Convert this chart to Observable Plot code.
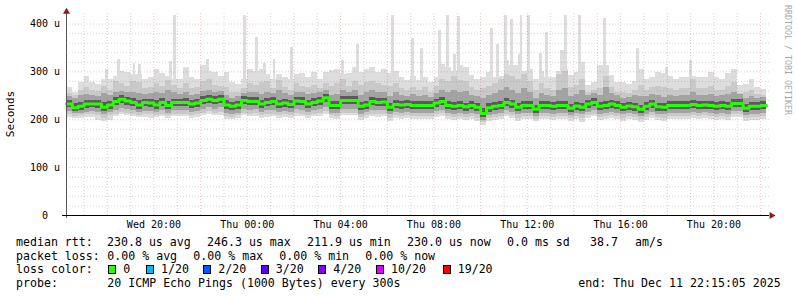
<!DOCTYPE html>
<html><head><meta charset="utf-8">
<script src="https://cdn.jsdelivr.net/npm/d3@7"></script>
<script src="https://cdn.jsdelivr.net/npm/@observablehq/plot@0.6"></script>
<style>
html,body{margin:0;padding:0;background:#fff;}
#wrap{position:relative;width:797px;height:297px;overflow:hidden;background:#fff;}
#chart{position:absolute;left:0;top:0;}
.lg{position:absolute;font-family:"DejaVu Sans Mono",monospace;font-size:11.6px;line-height:14px;white-space:pre;color:#000;}
.sw{position:absolute;width:8px;height:9px;box-sizing:border-box;border:1px solid #000;}
.rot{position:absolute;font-family:"DejaVu Sans Mono",monospace;text-align:center;white-space:pre;}
</style></head><body><div id="wrap"><div id="chart"></div></div>
<script>
// ---------- data (values in microseconds, "u") ----------
const startTime = "2025-12-10T16:15:05Z";
const endTime = "2025-12-11T22:15:05Z";
const stepMinutes = 15;

const medianRtt = [
233,225,228,233,233,233,226,231,238,243,239,236,231,236,235,231,236,230,236,236,
236,233,235,240,243,240,243,231,228,231,240,238,238,233,236,238,233,235,232,239,238,
233,236,239,246,230,230,240,240,240,228,231,238,236,237,226,232,231,232,230,230,
230,230,235,238,230,228,230,227,230,226,213,225,228,230,236,233,226,230,230,222,
230,230,228,230,230,224,229,226,233,236,228,230,233,230,226,229,227,222,228,233,
227,226,230,230,230,230,232,230,231,230,228,230,228,234,234,224,228,228,230];

const pingMax = [
268,258,278,291,278,274,285,285,290,300,299,295,295,285,289,304,296,290,285,285,
310,289,285,313,300,299,290,299,278,274,285,306,300,306,295,285,295,289,285,295,296,
289,299,285,299,303,306,295,296,310,299,306,310,299,306,296,300,289,281,290,283,
289,278,289,315,310,300,313,310,292,285,289,299,289,290,324,313,313,300,306,285,
300,289,289,300,305,292,299,320,271,278,313,313,292,278,278,274,280,306,285,289,
299,296,290,285,289,289,290,289,289,299,289,285,296,306,271,274,285,268,264];

const ping90 = [
255,250,262,268,262,260,270,262,280,275,270,280,278,265,268,275,270,282,272,265,
275,265,268,280,285,272,270,268,258,258,265,275,272,278,280,265,282,268,262,275,270,
268,272,265,275,270,275,285,270,280,272,278,280,275,272,270,275,265,262,268,262,
268,258,270,285,280,290,282,280,268,262,265,270,275,285,295,290,285,295,280,262,
275,265,262,295,300,268,272,285,258,262,265,290,268,258,258,255,262,272,262,268,
270,268,265,262,265,265,285,265,265,270,262,262,270,278,255,258,262,252,250];

const ping75 = [
248,245,250,252,250,248,255,250,258,260,256,258,255,252,254,256,255,262,256,252,
258,250,252,260,262,258,260,250,245,248,255,258,256,252,258,254,262,255,250,258,256,
252,255,256,262,250,252,262,258,262,250,256,262,258,256,248,258,250,248,252,248,
250,246,255,262,258,262,258,260,250,248,245,250,255,262,268,262,255,265,258,245,
255,250,248,262,265,248,252,262,250,254,250,268,255,250,245,246,250,248,248,252,
250,246,250,248,250,250,258,250,250,252,248,250,252,258,252,245,248,245,246];

const ping60 = [
240,234,236,240,241,240,236,239,246,250,247,244,240,243,242,240,244,239,243,243,
244,241,243,248,251,248,250,240,237,239,248,246,246,241,244,246,241,243,240,247,246,
241,244,247,253,238,238,248,248,248,237,239,246,244,245,235,240,239,240,238,238,
238,238,243,246,238,236,238,235,238,234,224,233,236,238,244,241,234,238,238,230,
238,238,236,238,238,232,237,234,241,244,236,238,241,238,234,237,235,230,236,241,
235,234,238,238,238,238,240,238,239,238,236,238,236,242,242,232,236,236,238];

const ping40 = [
225,218,220,224,225,224,217,222,229,234,230,227,222,227,226,222,227,221,227,227,
227,224,226,231,234,231,234,222,219,222,231,229,229,224,227,229,224,226,223,230,229,
224,227,230,236,221,221,231,231,231,219,222,229,227,228,217,223,222,223,221,221,
221,221,226,229,221,219,221,218,221,217,205,216,219,221,227,224,217,221,221,213,
221,221,219,221,221,215,220,217,224,227,219,221,224,221,217,220,218,213,219,224,
218,217,221,221,221,221,223,221,222,221,219,221,219,225,225,215,219,219,221];

const ping25 = [
217,213,214,216,218,216,210,215,220,224,222,219,215,218,218,215,219,214,219,219,
219,216,218,222,225,222,225,214,212,214,222,220,221,216,219,220,216,218,215,221,220,
216,219,221,226,214,214,222,222,222,212,215,220,219,220,210,215,214,215,214,214,
214,214,218,220,214,212,214,211,214,210,199,209,212,214,219,216,210,214,214,207,
214,214,212,214,214,209,213,210,216,219,212,214,216,214,210,213,211,207,212,216,
211,210,214,214,214,214,216,214,215,214,212,214,212,217,217,209,212,212,214];

const ping10 = [
210,207,208,210,211,208,203,208,212,216,214,212,209,210,211,209,212,208,212,212,
212,209,210,214,217,214,216,207,205,208,214,212,213,209,211,212,209,211,208,213,212,
209,212,213,218,208,207,214,214,214,205,208,212,211,212,203,208,207,208,207,207,
207,207,211,213,207,205,207,204,207,203,194,202,205,207,212,209,203,207,207,201,
207,207,205,207,207,202,206,203,209,212,205,207,209,207,203,206,204,200,205,209,
204,203,207,207,207,207,209,207,208,207,205,207,205,210,210,202,205,205,207];

const pingMin = [
205,203,203,205,205,199,197,199,206,210,208,206,204,204,203,204,206,203,206,206,
206,203,204,208,211,208,209,201,200,203,208,206,207,203,205,206,203,205,202,207,206,
203,206,207,212,202,201,208,208,208,199,202,206,205,206,197,202,201,202,201,201,
201,201,205,207,201,199,201,198,201,197,189,196,199,201,206,203,197,201,201,196,
201,201,199,201,201,196,200,194,203,206,199,201,203,201,197,200,198,195,199,203,
198,197,201,201,201,201,203,201,202,201,199,201,199,204,204,196,199,199,201];

// single-ping outliers (time, value)
const spikeTimes = [
"2025-12-10T18:00","2025-12-10T18:30","2025-12-10T19:10","2025-12-10T19:25","2025-12-10T20:43",
"2025-12-10T20:55","2025-12-10T22:20","2025-12-10T23:55","2025-12-11T00:25","2025-12-11T00:45",
"2025-12-11T01:10","2025-12-11T01:55","2025-12-11T04:05","2025-12-11T04:45","2025-12-11T06:15",
"2025-12-11T07:05","2025-12-11T07:30","2025-12-11T08:15","2025-12-11T08:35","2025-12-11T08:55",
"2025-12-11T09:05","2025-12-11T10:30","2025-12-11T10:45","2025-12-11T11:05","2025-12-11T11:20",
"2025-12-11T11:40","2025-12-11T11:45","2025-12-11T12:05","2025-12-11T12:35","2025-12-11T12:50",
"2025-12-11T13:30","2025-12-11T13:35","2025-12-11T13:40","2025-12-11T14:15","2025-12-11T15:20",
"2025-12-11T16:45","2025-12-11T18:00","2025-12-11T19:00"];
const spikeValues = [
305,325,317,315,322,
418,326,418,371,317,
326,350,324,358,418,
369,348,386,418,337,
415,390,358,418,410,
337,418,418,338,382,
345,345,418,418,411,
349,310,324];

const xTickTimes = ["2025-12-10T20:00","2025-12-11T00:00","2025-12-11T04:00","2025-12-11T08:00","2025-12-11T12:00","2025-12-11T16:00","2025-12-11T20:00"];
const xTickLabels = ["Wed 20:00","Thu 00:00","Thu 04:00","Thu 08:00","Thu 12:00","Thu 16:00","Thu 20:00"];
const yTicks = [0, 100, 200, 300, 400];
const yTickLabels = ["0\u00a0\u00a0", "100 u", "200 u", "300 u", "400 u"];
const yMax = 422;

const lossLabels = ["0","1/20","2/20","3/20","4/20","10/20","19/20"];
const lossColors = ["#26ff00","#00b8ff","#0059ff","#5e00ff","#7e00ff","#dd00ff","#ff0000"];

const medianLegend = ["median rtt:","230.8 us avg","246.3 us max","211.9 us min","230.0 us now","0.0 ms sd","38.7","am/s"];
const lossLegend = ["packet loss:","0.00 % avg","0.00 % max","0.00 % min","0.00 % now"];
const probeLegend = ["probe:","20 ICMP Echo Pings (1000 Bytes) every 300s","end: Thu Dec 11 22:15:05 2025"];
const yTitle = "Seconds";
const watermark = "RRDTOOL / TOBI OETIKER";

// ---------- build ----------
const MIN = 60000;
const parseT = d3.utcParse("%Y-%m-%dT%H:%M");
const start = new Date(startTime), end = new Date(endTime);
const bins = medianRtt.map((m, i) => ({
  t0: new Date(+start + i * stepMinutes * MIN),
  t1: new Date(+start + (i + 1) * stepMinutes * MIN),
  med: m, hi: pingMax[i], p90: ping90[i], p75: ping75[i], p60: ping60[i],
  p40: ping40[i], p25: ping25[i], p10: ping10[i], lo: pingMin[i]
}));
const medLine = bins.map(b => ({t: b.t0, v: b.med})).concat([{t: end, v: medianRtt[medianRtt.length - 1]}]);
const spikes = spikeTimes.map((s, i) => ({t: parseT(s), v: spikeValues[i]}));
const xTicks = xTickTimes.map(parseT);

const hours = d3.utcHour.range(d3.utcHour.ceil(start), end);
const majorX = hours.filter(h => h.getUTCHours() % 2 === 0);
const minorX = hours.filter(h => h.getUTCHours() % 2 === 1);
const majorY = [100, 200, 300, 400];
const minorY = d3.range(20, 420, 20).filter(v => v % 100 !== 0);
const gridEnd = new Date(+end + 10 * MIN);

const band = (y1, y2, fill) => Plot.rect(bins, {x1: "t0", x2: "t1", y1, y2, fill, shapeRendering: "crispEdges"});
const gridGray = "rgba(150,150,150,0.4)";
const gridRed = "rgba(210,60,60,0.3)";

const chart = Plot.plot({
  width: 797, height: 230,
  marginLeft: 66, marginRight: 31, marginTop: 13, marginBottom: 15,
  x: {type: "utc", domain: [start, end], axis: null},
  y: {domain: [0, yMax], axis: null},
  style: {background: "white", fontFamily: "DejaVu Sans Mono, monospace", overflow: "visible"},
  marks: [
    Plot.rect(spikes, {x1: d => new Date(+d.t - 3.75 * MIN), x2: d => new Date(+d.t + 3.75 * MIN), y1: () => 225, y2: "v", fill: "#dddddd", shapeRendering: "crispEdges"}),
    band("lo", "hi", "#dddddd"),
    band("p10", "p90", "#c9c9c9"),
    band("p25", "p75", "#a3a3a3"),
    band("p40", "p60", "#5a5a5a"),
    Plot.ruleX(minorX, {y1: 0, y2: yMax, stroke: gridGray, strokeDasharray: "1,2"}),
    Plot.ruleX(majorX, {y1: 0, y2: yMax, stroke: gridRed, strokeDasharray: "1,2"}),
    Plot.ruleY(minorY, {x1: () => start, x2: () => gridEnd, stroke: gridGray, strokeDasharray: "1,2"}),
    Plot.ruleY(majorY, {x1: () => start, x2: () => gridEnd, stroke: gridRed, strokeDasharray: "1,2"}),
    Plot.line(medLine, {x: "t", y: "v", curve: "step-after", stroke: "#26ff00", strokeWidth: 3}),
    Plot.ruleX([start], {y1: -6, y2: 428, stroke: "#555"}),
    Plot.ruleY([0], {x1: () => new Date(+start - 10 * MIN), x2: () => new Date(+end + 8 * MIN), stroke: "#000"}),
    Plot.dot([0], {x: () => start, y: () => 425.5, symbol: "triangle", r: 2.6, fill: "#8b1a1a", stroke: "none"}),
    Plot.dot([0], {x: () => new Date(+end + 13 * MIN), y: () => 0, symbol: "triangle", rotate: 90, r: 2.6, fill: "#8b1a1a", stroke: "none"}),
    Plot.text(yTicks, {y: d => d, text: (d, i) => yTickLabels[i], frameAnchor: "left", textAnchor: "end", dx: -6.5, fontSize: 10, fill: "#000"}),
    Plot.text(xTicks, {x: d => d, text: (d, i) => xTickLabels[i], frameAnchor: "bottom", dy: 9, lineAnchor: "middle", fontSize: 10, fill: "#000"})
  ]
});
document.getElementById("chart").appendChild(chart);

// ---------- legend (HTML text) ----------
const wrap = document.getElementById("wrap");
function put(text, x, top, cls = "lg") {
  const d = document.createElement("div");
  d.className = cls; d.textContent = text;
  d.style.left = x + "px"; d.style.top = top + "px";
  wrap.appendChild(d); return d;
}
const medianX = [16, 107, 207, 307, 407, 507, 590, 635];
medianLegend.forEach((t, i) => put(t, medianX[i], 235));
const lossX = [16, 107.3, 193.3, 279.3, 365.3];
lossLegend.forEach((t, i) => put(t, lossX[i], 248.5));
put("loss color:", 16, 262);
const swX = [108.3, 146, 203.3, 260.7, 318.3, 376, 442.7];
lossLabels.forEach((t, i) => {
  const s = document.createElement("div");
  s.className = "sw"; s.style.left = swX[i] + "px"; s.style.top = "264.5px"; s.style.background = lossColors[i];
  wrap.appendChild(s);
  put(t, swX[i] + 15, 262);
});
const probeX = [16, 107.3, 578.3];
probeLegend.forEach((t, i) => put(t, probeX[i], 275.5));

const yt = put(yTitle, -39.3, 107.5, "rot");
yt.style.width = "100px"; yt.style.fontSize = "11px"; yt.style.lineHeight = "12px"; yt.style.transform = "rotate(-90deg)"; yt.style.color = "#000";
const wm = put(watermark, 717.5, 55, "rot");
wm.style.width = "140px"; wm.style.fontSize = "8.3px"; wm.style.lineHeight = "10px"; wm.style.transform = "rotate(90deg)"; wm.style.color = "#a8a8a8";
</script></body></html>
